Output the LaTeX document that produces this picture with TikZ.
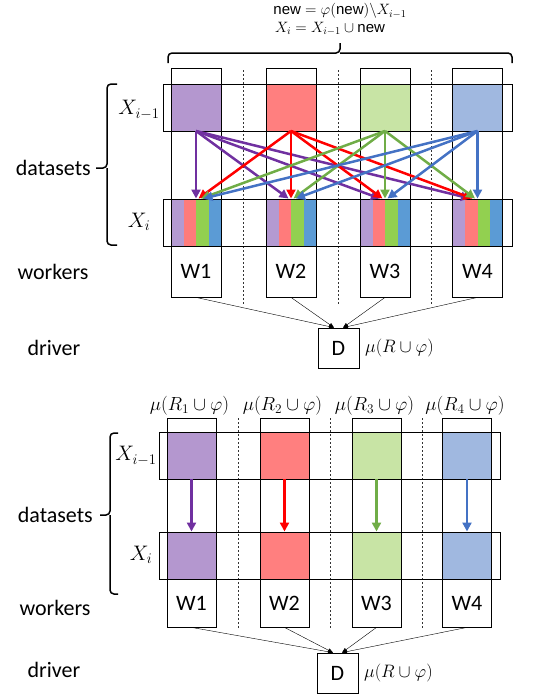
\RequirePackage{fix-cm}
\documentclass[tikz,border=0pt]{standalone}
\usepackage[no-math]{fontspec}
\setmainfont{Carlito}
\newfontfamily\arialf{Liberation Sans}
\usetikzlibrary{arrows.meta}
\definecolor{lp}{HTML}{B497CF}
\definecolor{lr}{HTML}{FF7F7F}
\definecolor{lg}{HTML}{C8E4A5}
\definecolor{lb}{HTML}{A0B8E0}
\definecolor{sp}{HTML}{B49AD2}
\definecolor{sr}{HTML}{FF7B7B}
\definecolor{sg}{HTML}{92D050}
\definecolor{sb}{HTML}{5B9BD5}
\definecolor{ap}{HTML}{7030A0}
\definecolor{ar}{HTML}{FF0000}
\definecolor{ag}{HTML}{70AD47}
\definecolor{ab}{HTML}{4472C4}
\begin{document}
\begin{tikzpicture}[x=1pt,y=-1pt,
  frame/.style={draw,line width=0.8pt},
  wbox/.style={draw,line width=0.8pt,minimum width=50pt,minimum height=51pt,inner sep=0pt,font=\fontsize{22}{26}\selectfont},
  dbox/.style={draw,line width=0.8pt,minimum width=41pt,minimum height=40pt,inner sep=0pt,font=\fontsize{22}{26}\selectfont},
  lab/.style={inner sep=0pt,font=\fontsize{22}{26}\selectfont},
  mlab/.style={inner sep=0pt,font=\fontsize{21}{25}\selectfont},
  arr/.style={line width=2.5pt,-{Triangle[length=9pt,width=9pt]}},
  thinarr/.style={line width=0.4pt,-{Triangle[length=5pt,width=4pt]}},
  sep/.style={line width=0.6pt,dash pattern=on 2pt off 2pt,black!80},
  brace/.style={line width=1.5pt,rounded corners=4pt}]
\useasboundingbox (0,0) rectangle (533,696);

% ================= TOP =================
\node[inner sep=0pt,font=\fontsize{15}{18}\selectfont] (f1) at (340,11) {\arialf new $=\varphi($new$)\backslash X_{i-1}$};
\node[inner sep=0pt,font=\fontsize{15}{18}\selectfont] (f2) at (330,28.5) {$X_i=X_{i-1}\cup{}$\arialf new};
\draw[brace] (168,63) |- (340,53) -- (340,43);
\draw[brace] (512,63) |- (340,53);

% fills X_{i-1}
\foreach \c/\col in {196/lp,291/lr,385/lg,477.5/lb}{
  \fill[\col] (\c-25,84) rectangle (\c+25,131);
}
% stripes X_i
\foreach \c in {196,291,385,477.5}{
  \fill[sp] (\c-25,199) rectangle (\c-12.5,246);
  \fill[sr] (\c-12.5,199) rectangle (\c,246);
  \fill[sg] (\c,199) rectangle (\c+12.5,246);
  \fill[sb] (\c+12.5,199) rectangle (\c+25,246);
}
% dashed separators
\foreach \x in {243,338,431}{ \draw[sep] (\x,70) -- (\x,304); }
% rows
\draw[frame] (163,84) rectangle (512,131);
\draw[frame] (163,199) rectangle (512,246);
% columns and worker boxes
\foreach \c/\n in {196/1,291/2,385/3,477.5/4}{
  \draw[frame] (\c-25,68) rectangle (\c+25,246);
  \node[wbox] (w\n) at (\c,271.5) {W\n};
}
% all-to-all arrows
\foreach \i/\ci/\col in {1/196/ap,2/291/ar,3/385/ag,4/477.5/ab}{
  \coordinate (s\i) at (\ci,131);
  \foreach \j/\cj in {1/196,2/291,3/385,4/477.5}{
    \coordinate (t\i\j) at ({\cj+2.5*(\i-\j)},198.5);
    \draw[arr,\col] (s\i) -- (t\i\j);
  }
}
% driver
\node[dbox] (d) at (338.5,348) {D};
\node[inner sep=0pt,anchor=west,font=\fontsize{18}{22}\selectfont] (dl) at (365,348) {$\mu(R\cup\varphi)$};
\draw[thinarr] (w1.south) -- ([xshift=-4.5pt]d.north);
\draw[thinarr] (w2.south) -- ([xshift=-4.5pt]d.north);
\draw[thinarr] (w3.south) -- ([xshift=4.5pt]d.north);
\draw[thinarr] (w4.south) -- ([xshift=4.5pt]d.north);
% left labels
\draw[brace] (117,84) -| (107,168) -- (96,168);
\draw[brace] (117,245) -| (107,168);
\node[lab,anchor=east] (ds1) at (91,168) {datasets};
\node[mlab] (xa1) at (139,110) {$X_{i-1}$};
\node[mlab] (xb1) at (139,222) {$X_i$};
\node[lab] (wk1) at (53,272) {workers};
\node[lab] (dr1) at (54,348) {driver};

% ================= BOTTOM =================
\foreach \c/\k in {191.5/1,284.5/2,376.5/3,467/4}{
  \node[inner sep=0pt,font=\fontsize{19}{22}\selectfont] (m\k) at (\c-2,406) {$\mu(R_\k\cup\varphi)$};
}
\foreach \c/\col in {191.5/lp,284.5/lr,376.5/lg,467/lb}{
  \fill[\col] (\c-24.5,432) rectangle (\c+24.5,479);
  \fill[\col] (\c-24.5,532) rectangle (\c+24.5,579);
}
\foreach \x in {238,330,422}{ \draw[sep] (\x,418) -- (\x,628); }
\draw[frame] (159,432) rectangle (500,479);
\draw[frame] (159,532) rectangle (500,579);
\foreach \c/\n in {191.5/1,284.5/2,376.5/3,467/4}{
  \draw[frame] (\c-24.5,418) rectangle (\c+24.5,579);
  \node[wbox,minimum width=49pt,minimum height=48pt] (v\n) at (\c,603) {W\n};
}
\foreach \i/\ci/\col in {1/191.5/ap,2/284.5/ar,3/376.5/ag,4/467/ab}{
  \coordinate (bs\i) at (\ci,479);
  \coordinate (bt\i) at (\ci,531.5);
  \draw[arr,\col] (bs\i) -- (bt\i);
}
\node[dbox] (d2) at (337.5,673) {D};
\node[inner sep=0pt,anchor=west,font=\fontsize{18}{22}\selectfont] (dl2) at (364,673) {$\mu(R\cup\varphi)$};
\draw[thinarr] (v1.south) -- ([xshift=-4.5pt]d2.north);
\draw[thinarr] (v2.south) -- ([xshift=-4.5pt]d2.north);
\draw[thinarr] (v3.south) -- ([xshift=4.5pt]d2.north);
\draw[thinarr] (v4.south) -- ([xshift=4.5pt]d2.north);
\draw[brace] (118,433) -| (110,515) -- (100,515);
\draw[brace] (118,594) -| (110,515);
\node[lab,anchor=east] (ds2) at (93,515) {datasets};
\node[mlab] (xa2) at (136,456) {$X_{i-1}$};
\node[mlab] (xb2) at (141,555) {$X_i$};
\node[lab] (wk2) at (55,608) {workers};
\node[lab] (dr2) at (54,670) {driver};
\end{tikzpicture}
\end{document}
